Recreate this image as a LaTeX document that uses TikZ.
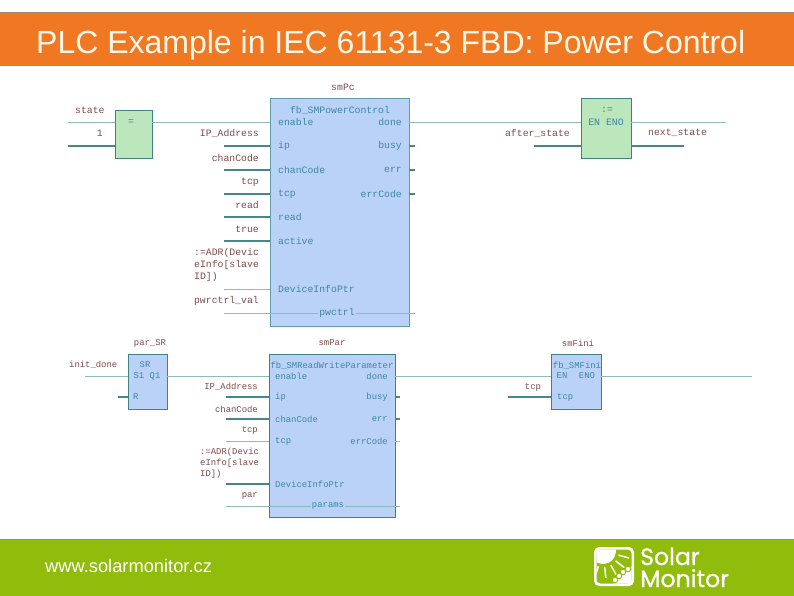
\documentclass[tikz,border=0pt]{standalone}
\usepackage{fontspec}
\usetikzlibrary{calc}
\setmainfont{Liberation Sans}
\newfontfamily\fbdfont{Liberation Mono}
\newfontfamily\logofont[FakeBold=0.7]{Poppins}
\definecolor{hdr}{HTML}{F07822}
\definecolor{ftr}{HTML}{92BC0C}
\definecolor{edge}{HTML}{A08A70}
\definecolor{edgeg}{HTML}{8E9A66}
\definecolor{cream}{HTML}{FFF8E8}
\definecolor{fbblue}{HTML}{BAD2F8}
\definecolor{fbgreen}{HTML}{BCE6BC}
\definecolor{fbedge}{HTML}{5F9EA6}
\definecolor{fbdark}{HTML}{3E8288}
\definecolor{wirelight}{HTML}{8FBABC}
\definecolor{wiredark}{HTML}{44888C}
\definecolor{varcol}{HTML}{7E4A4A}
\definecolor{pincol}{HTML}{3F86A0}
\tikzset{
  x=1pt,y=-1pt,
  band/.style={inner sep=0,outer sep=0,minimum width=795pt},
  fbb/.style={draw=fbedge,fill=fbblue,line width=1pt,inner sep=0,outer sep=0},
  fbg/.style={draw=fbdark,fill=fbgreen,line width=1pt,inner sep=0,outer sep=0},
  thin wire/.style={draw=wirelight,line width=.8pt},
  thick wire/.style={draw=wiredark,line width=1.2pt},
  vU/.style={font=\fbdfont\fontsize{9.8}{12}\selectfont,text=varcol,inner sep=0},
  pU/.style={font=\fbdfont\fontsize{9.8}{12}\selectfont,text=pincol,inner sep=0},
  vL/.style={font=\fbdfont\fontsize{8.9}{11}\selectfont,text=varcol,inner sep=0},
  pL/.style={font=\fbdfont\fontsize{8.9}{11}\selectfont,text=pincol,inner sep=0},
  ray/.style={draw=white,line width=1.5pt},
}
\begin{document}
\begin{tikzpicture}
\useasboundingbox (0,0) rectangle (794,595);
% bands
\node[band,draw=edge,fill=hdr,line width=.8pt,minimum height=53pt] (head) at (397,38.5) {};
\node[band,draw=edgeg,fill=ftr,line width=.8pt,minimum height=57pt] (foot) at (397,567.5) {};
\node[text=cream,font=\fontsize{32}{36}\selectfont,anchor=base west,inner sep=0] (title) at (36,53.5) {PLC Example in IEC 61131-3 FBD: Power Control};
\node[text=white,font=\fontsize{18.3}{21}\selectfont,anchor=base west,inner sep=0] (url) at (45,572) {www.solarmonitor.cz};
% logo
\fill[white,rounded corners=5pt] (594,547) rectangle (634,586);
\begin{scope}
\clip[rounded corners=4pt] (596.5,549.5) rectangle (631.5,583.5);
\fill[ftr] (596,549) rectangle (632,584);
\coordinate (sun) at (603,551);
\fill[white] (sun) circle (13);
\foreach \a in {15,38,61,84,107,130}{
  \draw[ray] ($(sun)+(\a:16)$) -- ($(sun)+(\a:27)$);
}
\fill[white] (612,585) -- (632,566) -- (633,585) -- cycle;
\foreach \p/\q in {615/580,619/576,623/572,628/569}{
  \draw[ftr,line width=.9pt,fill=white] (\p,\q) circle (2.8);
}
\end{scope}
\node[text=white,font=\logofont\fontsize{23.6}{24}\selectfont,anchor=base west,inner sep=0] (solar) at (640,565) {Solar};
\node[text=white,font=\logofont\fontsize{23.6}{24}\selectfont,anchor=base west,inner sep=0] (monitor) at (640,587) {Monitor};
% blocks
\node[fbg,minimum width=37pt,minimum height=48pt] (eq) at (133.5,134) {};
\node[fbb,minimum width=139pt,minimum height=228pt] (smPc) at (339.5,212) {};
\node[fbg,minimum width=50pt,minimum height=60pt] (asg) at (606,128) {};
\node[fbb,draw=fbdark,minimum width=39pt,minimum height=55pt] (sr) at (147.5,381.5) {};
\node[fbb,draw=fbdark,minimum width=126pt,minimum height=163pt] (smPar) at (332,435.5) {};
\node[fbb,draw=fbdark,minimum width=50pt,minimum height=55pt] (smFini) at (576,381.5) {};
% free wire ends
\coordinate (stateIn) at (68,122);
\coordinate (oneIn) at (68,146);
\foreach \n/\y in {ip/146,chan/170,tcp/194,read/217,act/241,dev/289,pw/313}{\coordinate (U\n) at (224,\y);}
\foreach \n/\y in {busy/146,err/170,code/194,pwr/313}{\coordinate (O\n) at (415,\y);}
\coordinate (afterIn) at (534,146);
\coordinate (nextOut) at (684,146);
\coordinate (asgOut) at (726,122);
\coordinate (initIn) at (85,376);
\coordinate (rIn) at (118,397);
\foreach \n/\y in {ip/397,chan/419,tcp/441,dev/484,par/506}{\coordinate (L\n) at (226,\y);}
\foreach \n/\y in {busy/397,err/419,code/441,parr/506}{\coordinate (R\n) at (400,\y);}
\coordinate (finiTcp) at (508,397);
\coordinate (finiOut) at (752,376);
% wires upper
\draw[thin wire] (stateIn) -- (eq.west |- stateIn);
\draw[thick wire] (oneIn) -- (eq.west |- oneIn);
\draw[thin wire] (eq.east |- stateIn) -- (smPc.west |- stateIn);
\draw[thick wire] (Uip) -- (smPc.west |- Uip);
\draw[thick wire] (Uchan) -- (smPc.west |- Uchan);
\draw[thick wire] (Utcp) -- (smPc.west |- Utcp);
\draw[thick wire] (Uread) -- (smPc.west |- Uread);
\draw[thick wire] (Uact) -- (smPc.west |- Uact);
\draw[thin wire] (Udev) -- (smPc.west |- Udev);
\draw[thin wire] (Upw) -- (Opwr);
\draw[thin wire] (smPc.east |- stateIn) -- (asg.west |- stateIn);
\draw[thick wire] (smPc.east |- Obusy) -- (Obusy);
\draw[thick wire] (smPc.east |- Oerr) -- (Oerr);
\draw[thick wire] (smPc.east |- Ocode) -- (Ocode);
\draw[thick wire] (afterIn) -- (asg.west |- afterIn);
\draw[thick wire] (asg.east |- nextOut) -- (nextOut);
\draw[thin wire] (asg.east |- asgOut) -- (asgOut);
% wires lower
\draw[thin wire] (initIn) -- (sr.west |- initIn);
\draw[thick wire] (rIn) -- (sr.west |- rIn);
\draw[thin wire] (sr.east |- initIn) -- (smPar.west |- initIn);
\draw[thick wire] (Lip) -- (smPar.west |- Lip);
\draw[thick wire] (Lchan) -- (smPar.west |- Lchan);
\draw[thin wire] (Ltcp) -- (smPar.west |- Ltcp);
\draw[thick wire] (Ldev) -- (smPar.west |- Ldev);
\draw[thin wire] (Lpar) -- (Rparr);
\draw[thin wire] (smPar.east |- initIn) -- (smFini.west |- initIn);
\draw[thick wire] (smPar.east |- Rbusy) -- (Rbusy);
\draw[thick wire] (smPar.east |- Rerr) -- (Rerr);
\draw[thin wire] (smPar.east |- Rcode) -- (Rcode);
\draw[thick wire] (finiTcp) -- (smFini.west |- finiTcp);
\draw[thin wire] (smFini.east |- finiOut) -- (finiOut);
% upper labels
\node[vU] (t1) at (343,87) {smPc};
\node[vU,anchor=west] (t2) at (75,110) {state};
\node[vU,anchor=east] (t3) at (103,133) {1};
\node[pU] (t4) at (131,122) {=};
\node[vU,anchor=east] (t5) at (259,133) {IP\_Address};
\node[vU,anchor=east] (t6) at (259,158) {chanCode};
\node[vU,anchor=east] (t7) at (259,182) {tcp};
\node[vU,anchor=east] (t8) at (259,205) {read};
\node[vU,anchor=east] (t9) at (259,229) {true};
\node[vU,anchor=west] (t10) at (194,253) {:=ADR(Devic};
\node[vU,anchor=west] (t11) at (194,265) {eInfo[slave};
\node[vU,anchor=west] (t12) at (194,277) {ID])};
\node[vU,anchor=east] (t13) at (259,301) {pwrctrl\_val};
\node[pU] (t14) at (340,110) {fb\_SMPowerControl};
\foreach \n/\s/\y in {a/enable/122,b/ip/146,c/chanCode/170,d/tcp/194,e/read/217,f/active/241,g/DeviceInfoPtr/289}{
  \node[pU,anchor=west] (pi\n) at (278,\y) {\s};
}
\foreach \n/\s/\y in {a/done/122,b/busy/146,c/err/170,d/errCode/194}{
  \node[pU,anchor=east] (po\n) at (402,\y) {\s};
}
\node[pU,fill=fbblue,inner xsep=1pt] (t15) at (337,313) {pwctrl};
\node[pU] (t16) at (607,110) {:=};
\node[pU] (t17) at (606,122) {EN ENO};
\node[vU,anchor=east] (t18) at (570,133) {after\_state};
\node[vU,anchor=west] (t19) at (648,133) {next\_state};
% lower labels
\node[vL] (u1) at (150,343) {par\_SR};
\node[vL] (u2) at (332,343) {smPar};
\node[vL] (u3) at (578,343) {smFini};
\node[vL,anchor=west] (u4) at (69,365) {init\_done};
\node[pL] (u5) at (145,365) {SR};
\node[pL] (u6) at (147,376) {S1 Q1};
\node[pL,anchor=west] (u7) at (133,397) {R};
\node[vL,anchor=east] (u8) at (258,387) {IP\_Address};
\node[vL,anchor=east] (u9) at (258,409) {chanCode};
\node[vL,anchor=east] (u10) at (258,430) {tcp};
\node[vL,anchor=west] (u11) at (200,452) {:=ADR(Devic};
\node[vL,anchor=west] (u12) at (200,463) {eInfo[slave};
\node[vL,anchor=west] (u13) at (200,474) {ID])};
\node[vL,anchor=east] (u14) at (258,496) {par};
\node[pL] (u15) at (332,366) {fb\_SMReadWriteParameter};
\foreach \n/\s/\y in {a/enable/376,b/ip/397,c/chanCode/419,d/tcp/441,e/DeviceInfoPtr/484}{
  \node[pL,anchor=west] (qi\n) at (275,\y) {\s};
}
\foreach \n/\s/\y in {a/done/376,b/busy/397,c/err/419,d/errCode/441}{
  \node[pL,anchor=east] (qo\n) at (388,\y) {\s};
}
\node[pL,fill=fbblue,inner xsep=1pt] (u16) at (328,506) {params};
\node[vL] (u17) at (533,387) {tcp};
\node[pL] (u18) at (577,366) {fb\_SMFini};
\node[pL] (u19) at (562,376) {EN};
\node[pL] (u20) at (587,376) {ENO};
\node[pL,anchor=west] (u21) at (557,397) {tcp};
\end{tikzpicture}
\end{document}
